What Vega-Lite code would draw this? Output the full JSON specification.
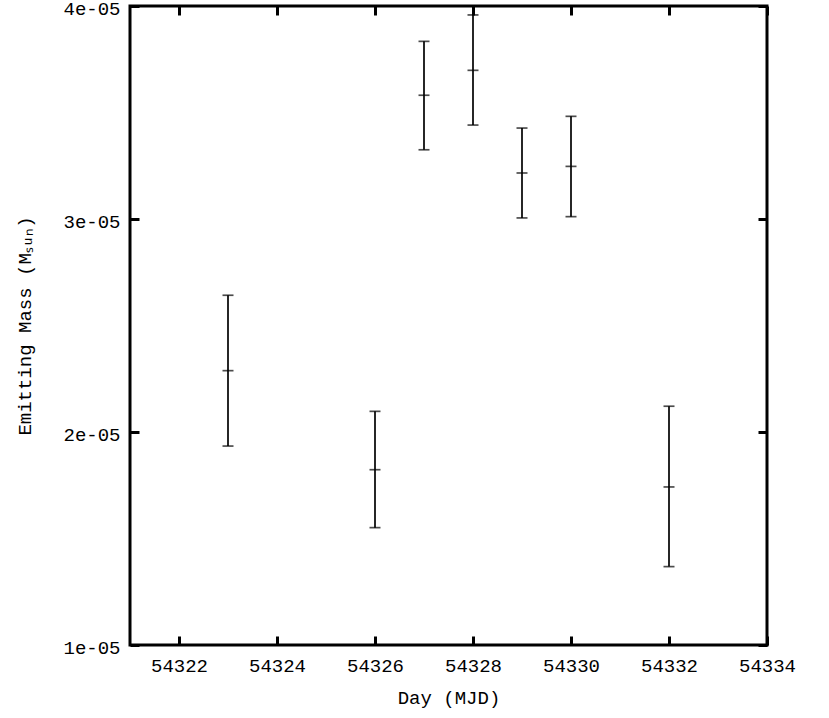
{
  "$schema": "https://vega.github.io/schema/vega-lite/v6.json",
  "autosize": "none",
  "width": 637,
  "height": 639,
  "padding": {"left": 130, "top": 6, "right": 62, "bottom": 73},
  "background": "white",
  "config": {
    "view": {"stroke": "black", "strokeWidth": 3},
    "axis": {
      "labelFont": "Liberation Mono",
      "titleFont": "Liberation Mono",
      "labelFontSize": 19,
      "titleFontSize": 19,
      "titleFontWeight": "normal",
      "labelColor": "black",
      "titleColor": "black",
      "tickColor": "black",
      "tickWidth": 3,
      "tickSize": -9,
      "labelFlush": false,
      "labelOverlap": false,
      "domain": false,
      "grid": false
    }
  },
  "data": {
    "values": [
      {"day": 54323, "mass": 2.288e-5, "lo": 1.934e-5, "hi": 2.642e-5},
      {"day": 54326, "mass": 1.823e-5, "lo": 1.551e-5, "hi": 2.097e-5},
      {"day": 54327, "mass": 3.581e-5, "lo": 3.325e-5, "hi": 3.834e-5},
      {"day": 54328, "mass": 3.698e-5, "lo": 3.441e-5, "hi": 3.958e-5},
      {"day": 54329, "mass": 3.216e-5, "lo": 3.005e-5, "hi": 3.427e-5},
      {"day": 54330, "mass": 3.247e-5, "lo": 3.011e-5, "hi": 3.482e-5},
      {"day": 54332, "mass": 1.742e-5, "lo": 1.368e-5, "hi": 2.121e-5}
    ]
  },
  "layer": [
    {
      "mark": {"type": "rule", "color": "black", "strokeWidth": 1.7},
      "encoding": {
        "x": {
          "field": "day", "type": "quantitative",
          "scale": {"domain": [54321, 54334], "nice": false, "zero": false},
          "axis": {"orient": "bottom", "values": [54322, 54324, 54326, 54328, 54330, 54332, 54334], "format": "d", "title": "Day (MJD)", "labelPadding": 20, "titlePadding": 13}
        },
        "y": {
          "field": "lo", "type": "quantitative",
          "scale": {"domain": [1e-5, 4e-5], "nice": false, "zero": false},
          "axis": {"orient": "left", "values": [1e-5, 2e-5, 3e-5, 4e-5], "labelExpr": "replace(format(datum.value, '.0e'), 'e-', 'e-0')", "title": "Emitting Mass (Mₛᵤₙ)", "labelPadding": 19, "labelOffset": 2, "titlePadding": 28}
        },
        "y2": {"field": "hi"}
      }
    },
    {
      "mark": {"type": "tick", "color": "black", "orient": "horizontal", "size": 11, "thickness": 1.7},
      "encoding": {
        "x": {
          "field": "day", "type": "quantitative",
          "axis": {"orient": "top", "values": [54322, 54324, 54326, 54328, 54330, 54332, 54334], "labels": false, "title": null}
        },
        "y": {
          "field": "hi", "type": "quantitative",
          "axis": {"orient": "right", "values": [1e-5, 2e-5, 3e-5, 4e-5], "labels": false, "title": null}
        }
      }
    },
    {
      "mark": {"type": "tick", "color": "black", "orient": "horizontal", "size": 11, "thickness": 1.7},
      "encoding": {
        "x": {"field": "day", "type": "quantitative", "axis": null},
        "y": {"field": "lo", "type": "quantitative", "axis": null}
      }
    },
    {
      "mark": {"type": "tick", "color": "black", "orient": "horizontal", "size": 11, "thickness": 1.7},
      "encoding": {
        "x": {"field": "day", "type": "quantitative", "axis": null},
        "y": {"field": "mass", "type": "quantitative", "axis": null}
      }
    }
  ],
  "resolve": {"axis": {"x": "independent", "y": "independent"}}
}
